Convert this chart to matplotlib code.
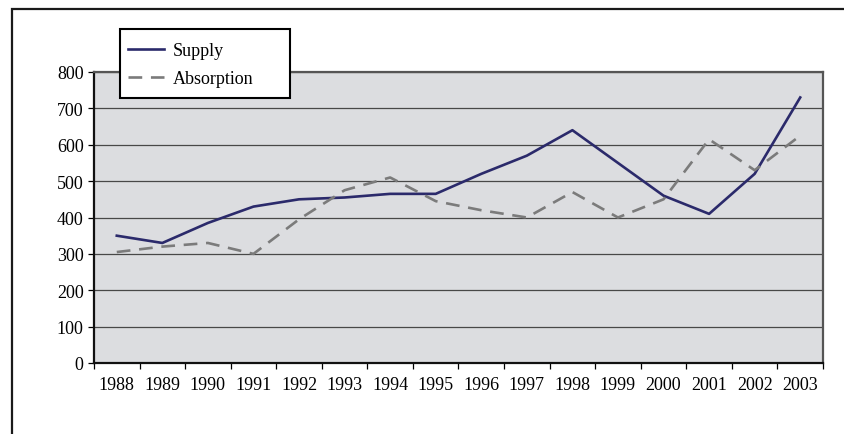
import matplotlib
matplotlib.use("Agg")
import matplotlib.pyplot as plt
from matplotlib.patches import Rectangle
import numpy as np

years = ["1988", "1989", "1990", "1991", "1992", "1993", "1994", "1995",
         "1996", "1997", "1998", "1999", "2000", "2001", "2002", "2003"]
supply = [350, 330, 385, 430, 450, 455, 465, 465, 520, 570, 640, 550, 460, 410, 520, 730]
absorption = [305, 320, 330, 300, 395, 475, 510, 445, 420, 400, 470, 400, 450, 615, 530, 625]

plt.rcParams['font.family'] = ['Liberation Serif', 'DejaVu Serif']

W, H = 845, 435
fig = plt.figure(figsize=(W / 100, H / 100), dpi=100)

# outer frame, cut off at right and bottom like the scan
fig.patches.append(Rectangle((12 / W, -0.1), 1.0, 1 - 10 / H + 0.1,
                             transform=fig.transFigure, fill=False,
                             edgecolor="#1a1a1a", linewidth=1.6, zorder=0))

ax = fig.add_axes([94 / W, 1 - 364 / H, 729 / W, 291 / H])
ax.set_facecolor("#dcdde0")

x = np.arange(len(years))
ax.plot(x, supply, color="#2b2a6b", linewidth=1.9, label="Supply", zorder=3)
ax.plot(x, absorption, color="#7b7b7b", linewidth=1.9,
        linestyle=(0, (5.2, 3.3)), label="Absorption", zorder=3)

ax.set_xlim(-0.5, len(years) - 0.5)
ax.set_ylim(0, 800)
ax.set_yticks(range(0, 801, 100))
ax.yaxis.grid(True, color="#484848", linewidth=0.9)
ax.set_axisbelow(True)

ax.set_xticks(x)
ax.set_xticklabels(years)
ax.set_xticks(np.arange(-0.5, len(years), 1.0), minor=True)
ax.tick_params(axis="x", which="major", length=0, pad=9, labelsize=13)
ax.tick_params(axis="x", which="minor", length=4.5, width=0.9, direction="out")
ax.tick_params(axis="y", length=4.5, width=0.9, direction="out", pad=3, labelsize=13)

for side in ["left", "bottom"]:
    ax.spines[side].set_color("#111111")
    ax.spines[side].set_linewidth(1.6)
for side in ["top", "right"]:
    ax.spines[side].set_color("#555555")
    ax.spines[side].set_linewidth(1.6)

# legend box drawn separately so it can be wider than its contents
fig.patches.append(Rectangle((120 / W, 1 - 99 / H), 170 / W, 69 / H,
                             transform=fig.transFigure, facecolor="white",
                             edgecolor="black", linewidth=1.5, zorder=4))
leg = fig.legend(loc="upper left", bbox_to_anchor=(128 / W, 1 - 43 / H),
                 fontsize=13, frameon=False, handlelength=2.0,
                 handletextpad=0.5, labelspacing=0.62, borderpad=0,
                 borderaxespad=0)
leg.set_zorder(5)

fig.savefig("out.png", dpi=100)
